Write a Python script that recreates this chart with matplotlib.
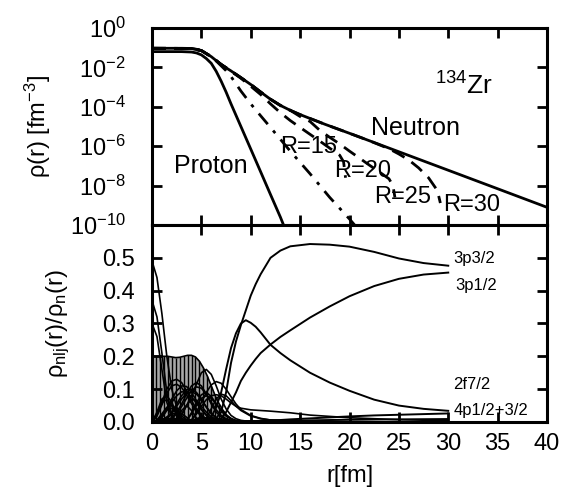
"""
134Zr neutron and proton densities, and the partial neutron densities
rho_nlj(r)/rho_n(r) of the single-particle orbitals
"""
import matplotlib
matplotlib.use('Agg')
import matplotlib.pyplot as plt
import numpy as np

plt.rcParams['font.family'] = ['Liberation Sans', 'DejaVu Sans']
plt.rcParams['mathtext.fontset'] = 'custom'
plt.rcParams['mathtext.rm'] = 'Liberation Sans'
plt.rcParams['mathtext.it'] = 'Liberation Sans:italic'
plt.rcParams['mathtext.default'] = 'regular'

########## total densities [fm^-3] ##########
r_n = [0, 1, 2, 3, 4, 4.5, 5, 5.5, 6, 6.5, 7, 7.5, 8, 9, 10, 11, 12, 13, 14, 15,
       17.5, 20, 25, 30, 35, 40]
rho_n = [9.3e-2, 9.3e-2, 9.3e-2, 9.3e-2, 9.1e-2, 8.3e-2, 7.1e-2, 5.0e-2, 3.5e-2,
         2.2e-2, 1.4e-2, 9.5e-3, 6.6e-3, 3.0e-3, 1.35e-3, 5.6e-4, 2.4e-4, 1.17e-4,
         6.6e-5, 4.0e-5, 1.3e-5, 4.5e-6, 5.2e-7, 6.0e-8, 6.9e-9, 7.9e-10]

r_p = [0, 1, 2, 3, 4, 4.5, 5, 5.5, 6, 6.5, 7, 7.5, 8, 9, 10, 11, 12, 13, 13.4]
rho_p = [6.3e-2, 6.3e-2, 6.3e-2, 6.3e-2, 6.0e-2, 5.4e-2, 4.3e-2, 2.8e-2, 1.6e-2,
         6.3e-3, 2.0e-3, 5.6e-4, 1.4e-4, 1.0e-5, 7.1e-7, 5.0e-8, 3.5e-9, 2.5e-10,
         7.9e-11]

# neutron density with bound orbitals only (dash-dot)
r_b = [0, 2, 4, 5, 6, 6.5, 7, 7.5, 8, 9, 10, 11, 12, 14, 16, 18, 20, 20.6]
rho_b = [9.3e-2, 9.3e-2, 9.1e-2, 7.1e-2, 3.5e-2, 2.1e-2, 1.2e-2, 6.8e-3, 3.4e-3,
         6.3e-4, 1.4e-4, 3.5e-5, 8.9e-6, 5.6e-7, 4.0e-8, 2.5e-9, 2.0e-10, 8.9e-11]

# box calculations, box radius R (dashed)
r_R15 = [0, 4, 5, 6, 7, 8, 9, 10, 11, 12, 13, 14, 15, 16, 17, 18, 19, 19.4, 19.6]
rho_R15 = [9.3e-2, 9.1e-2, 7.1e-2, 3.5e-2, 1.4e-2, 6.3e-3, 2.8e-3, 1.1e-3, 4.2e-4,
           1.4e-4, 5.0e-5, 2.0e-5, 8.9e-6, 4.0e-6, 1.8e-6, 7.9e-7, 3.5e-7, 1.6e-7,
           2.5e-8]
r_R20 = [0, 4, 5, 6, 7, 8, 9, 10, 11, 12, 13, 14, 15, 16, 17, 18, 19, 20, 21, 22,
         23, 24, 24.4, 24.6]
rho_R20 = [9.3e-2, 9.1e-2, 7.1e-2, 3.5e-2, 1.4e-2, 6.6e-3, 3.0e-3, 1.35e-3, 5.6e-4,
           2.4e-4, 1.17e-4, 6.6e-5, 3.2e-5, 1.8e-5, 6.3e-6, 2.8e-6, 1.3e-6, 5.6e-7,
           2.5e-7, 1.1e-7, 5.0e-8, 2.2e-8, 1.0e-8, 2.5e-9]
r_R25 = [0, 4, 5, 6, 7, 8, 9, 10, 11, 12, 13, 14, 15, 17.5, 20, 22, 24, 25, 26, 27,
         28, 28.9, 29.2]
rho_R25 = [9.3e-2, 9.1e-2, 7.1e-2, 3.5e-2, 1.4e-2, 6.6e-3, 3.0e-3, 1.35e-3, 5.6e-4,
           2.4e-4, 1.17e-4, 6.6e-5, 4.0e-5, 1.3e-5, 4.5e-6, 1.9e-6, 7.4e-7, 4.0e-7,
           2.0e-7, 7.9e-8, 2.5e-8, 5.6e-9, 1.3e-9]

########## partial densities rho_nlj / rho_n ##########
# deep orbitals
r_o = [0, 0.5, 1, 1.5, 2, 2.5, 3, 3.5, 4, 4.5, 5, 5.5, 6, 6.5, 7, 7.5, 8, 8.5, 9,
       10, 11, 12, 14, 16, 20, 25, 30]

f_1s12 = [0.49, 0.44, 0.33, 0.20, 0.10, 0.045, 0.018, 0.007, 0.003, 0.001] + [0] * 17
f_2s12 = [0.37, 0.32, 0.21, 0.09, 0.02, 0.002, 0.02, 0.05, 0.07, 0.065, 0.048,
          0.03, 0.016, 0.008, 0.004, 0.002, 0.001] + [0] * 10
f_3s12 = [0.30, 0.26, 0.16, 0.06, 0.012, 0.008, 0.035, 0.05, 0.035, 0.012, 0.001,
          0.012, 0.04, 0.07, 0.085, 0.08, 0.065, 0.048, 0.035, 0.018, 0.01, 0.006,
          0.003, 0.002, 0.001, 0, 0]
f_1p32 = [0, 0.02, 0.06, 0.10, 0.125, 0.13, 0.12, 0.095, 0.065, 0.04, 0.02, 0.01,
          0.004, 0.002, 0.001] + [0] * 12
f_1p12 = [0, 0.018, 0.052, 0.088, 0.11, 0.115, 0.105, 0.082, 0.056, 0.033, 0.017,
          0.008, 0.003, 0.001] + [0] * 13
f_1d52 = [0, 0.003, 0.015, 0.04, 0.07, 0.095, 0.11, 0.108, 0.09, 0.065, 0.04,
          0.022, 0.01, 0.004, 0.002, 0.001] + [0] * 11
f_1d32 = [0, 0.003, 0.013, 0.035, 0.06, 0.08, 0.092, 0.09, 0.077, 0.057, 0.037,
          0.02, 0.01, 0.004, 0.002, 0.001] + [0] * 11
f_1f72 = [0, 0, 0.003, 0.012, 0.03, 0.055, 0.08, 0.098, 0.10, 0.09, 0.07, 0.045,
          0.025, 0.012, 0.005, 0.002, 0.001] + [0] * 10
f_1f52 = [0, 0, 0.002, 0.01, 0.026, 0.048, 0.07, 0.088, 0.092, 0.085, 0.068,
          0.046, 0.027, 0.013, 0.006, 0.003, 0.001] + [0] * 10
f_1g92 = [0, 0, 0, 0.003, 0.012, 0.03, 0.055, 0.085, 0.11, 0.12, 0.11, 0.085,
          0.055, 0.03, 0.015, 0.007, 0.003, 0.001] + [0] * 9
f_1g72 = [0, 0, 0, 0.002, 0.01, 0.025, 0.047, 0.072, 0.095, 0.107, 0.103, 0.085,
          0.06, 0.037, 0.02, 0.01, 0.005, 0.002, 0.001] + [0] * 8
f_1h112 = [0, 0, 0, 0, 0.003, 0.01, 0.025, 0.05, 0.08, 0.115, 0.15, 0.16, 0.145,
           0.11, 0.07, 0.04, 0.02, 0.01, 0.005, 0.001] + [0] * 7
f_2p32 = [0, 0.03, 0.07, 0.08, 0.06, 0.025, 0.004, 0.004, 0.028, 0.058, 0.083,
          0.09, 0.078, 0.055, 0.034, 0.018, 0.009, 0.004, 0.002, 0.001] + [0] * 7
f_2p12 = [0, 0.025, 0.06, 0.068, 0.05, 0.02, 0.003, 0.004, 0.025, 0.05, 0.072,
          0.08, 0.072, 0.055, 0.036, 0.021, 0.011, 0.005, 0.003, 0.001] + [0] * 7
f_2d52 = [0, 0.006, 0.025, 0.045, 0.05, 0.035, 0.012, 0.001, 0.006, 0.03, 0.06,
          0.09, 0.113, 0.123, 0.118, 0.1, 0.077, 0.055, 0.038, 0.02, 0.011, 0.006,
          0.003, 0.002, 0.001, 0, 0]
f_2d32 = [0, 0.005, 0.02, 0.037, 0.042, 0.03, 0.01, 0.001, 0.005, 0.024, 0.048,
          0.068, 0.08, 0.083, 0.08, 0.07, 0.058, 0.048, 0.042, 0.037, 0.035, 0.033,
          0.028, 0.021, 0.013, 0.007, 0.004]

# weakly bound orbitals
r_w = [0, 1, 2, 3, 4, 5, 6, 6.5, 7, 7.5, 8, 8.5, 9, 9.5, 10, 10.5, 11, 12, 13, 14,
       16, 18, 20, 22.5, 25, 27.5, 30]
f_2f72 = [0, 0.005, 0.025, 0.025, 0.003, 0, 0.015, 0.045, 0.09, 0.16, 0.225, 0.27,
          0.30, 0.31, 0.302, 0.29, 0.273, 0.235, 0.21, 0.188, 0.15, 0.12, 0.095,
          0.068, 0.05, 0.04, 0.034]
f_3p32 = [0, 0.003, 0.012, 0.005, 0.003, 0.015, 0.008, 0.012, 0.03, 0.09, 0.18,
          0.245, 0.295, 0.34, 0.385, 0.42, 0.45, 0.50, 0.522, 0.535, 0.542, 0.54,
          0.534, 0.518, 0.498, 0.484, 0.476]
f_3p12 = [0, 0.002, 0.009, 0.004, 0.002, 0.011, 0.006, 0.005, 0.01, 0.03, 0.06,
          0.09, 0.125, 0.15, 0.172, 0.192, 0.21, 0.236, 0.259, 0.279, 0.318, 0.352,
          0.383, 0.414, 0.436, 0.449, 0.455]
f_4p32 = [0, 0.01, 0.002, 0.008, 0.005, 0.001, 0.008, 0.009, 0.007, 0.005, 0.003,
          0.002, 0.002, 0.002, 0.003, 0.003, 0.004, 0.005, 0.006, 0.008, 0.011,
          0.014, 0.017, 0.02, 0.022, 0.024, 0.026]
f_4p12 = [0, 0.008, 0.002, 0.006, 0.004, 0.001, 0.006, 0.007, 0.005, 0.004, 0.002,
          0.002, 0.002, 0.002, 0.002, 0.002, 0.003, 0.003, 0.003, 0.004, 0.005,
          0.006, 0.007, 0.0075, 0.008, 0.0085, 0.009]

# deep-hole strength, drawn as impulses
r_imp = [0, 0.4, 0.8, 1.2, 1.6, 2.0, 2.4, 2.8, 3.2, 3.6, 4.0, 4.4, 4.8, 5.2, 5.6,
         6.0, 6.4, 6.8, 7.2, 7.6, 8.0]
h_imp = [0.2, 0.2, 0.2, 0.2, 0.2, 0.198, 0.196, 0.197, 0.2, 0.203, 0.203, 0.198,
         0.185, 0.165, 0.14, 0.11, 0.08, 0.055, 0.035, 0.02, 0.01]

deep = [f_1s12, f_2s12, f_3s12, f_1p32, f_1p12, f_1d52, f_1d32, f_1f72, f_1f52,
        f_1g92, f_1g72, f_1h112, f_2p32, f_2p12, f_2d52, f_2d32]
weak = [f_2f72, f_3p32, f_3p12, f_4p32, f_4p12]

########## figure ##########
fig = plt.figure(figsize=(5.62, 4.95), dpi=100)
ax1 = fig.add_axes([0.2705, 0.5455, 0.7028, 0.398])
ax2 = fig.add_axes([0.2705, 0.1475, 0.7028, 0.398])

ax1.plot(r_n, rho_n, 'k-', lw=2.0)
ax1.plot(r_p, rho_p, 'k-', lw=2.0)
ax1.plot(r_b, rho_b, 'k', lw=2.0, dashes=(5, 3, 1.2, 3))
for rr, dd in [(r_R15, rho_R15), (r_R20, rho_R20), (r_R25, rho_R25)]:
    ax1.plot(rr, dd, 'k', lw=2.0, dashes=(5, 3))
ax1.set_yscale('log')
ax1.set_xlim(0, 40)
ax1.set_ylim(1e-10, 1e0)
ax1.set_yticks([1e0, 1e-2, 1e-4, 1e-6, 1e-8, 1e-10])
ax1.yaxis.set_minor_locator(matplotlib.ticker.NullLocator())
ax1.set_xticks(np.arange(0, 41, 5))
ax1.tick_params(labelbottom=False)
ax1.set_ylabel(r'$\rho$(r) [fm$^{-3}$]', fontsize=17)
ax1.yaxis.set_label_coords(-0.25, 0.5)

ax1.text(0.149, 0.299, 'Proton', transform=ax1.transAxes, fontsize=18,
         ha='center', va='center')
ax1.text(0.668, 0.492, 'Neutron', transform=ax1.transAxes, fontsize=18,
         ha='center', va='center')
ax1.text(0.397, 0.396, 'R=15', transform=ax1.transAxes, fontsize=17,
         ha='center', va='center')
ax1.text(0.532, 0.274, 'R=20', transform=ax1.transAxes, fontsize=17,
         ha='center', va='center')
ax1.text(0.635, 0.142, 'R=25', transform=ax1.transAxes, fontsize=17,
         ha='center', va='center')
ax1.text(0.810, 0.102, 'R=30', transform=ax1.transAxes, fontsize=17,
         ha='center', va='center')
ax1.text(0.716, 0.66, r'$^{134}$Zr', transform=ax1.transAxes, fontsize=19,
         ha='left', va='baseline')

# lower panel
ax2.fill_between(r_imp, 0, h_imp, color='#a8a8a8', lw=0)
ax2.vlines(r_imp, 0, h_imp, colors='k', lw=1.0)
ax2.plot(r_imp, h_imp, 'k-', lw=1.2)
for f in deep:
    ax2.plot(r_o, f, 'k-', lw=1.2)
for f in weak:
    ax2.plot(r_w, f, 'k-', lw=1.4)
ax2.set_xlim(0, 40)
ax2.set_ylim(0, 0.6)
ax2.set_xticks(np.arange(0, 41, 5))
ax2.set_yticks([0, 0.1, 0.2, 0.3, 0.4, 0.5])
ax2.yaxis.set_major_formatter(matplotlib.ticker.FormatStrFormatter('%.1f'))
ax2.set_xlabel('r[fm]', fontsize=17, labelpad=7)
ax2.set_ylabel(r'$\rho_{nlj}$(r)/$\rho_n$(r)', fontsize=17)
ax2.yaxis.set_label_coords(-0.203, 0.5)

ax2.text(30.5, 0.499, '3p3/2', fontsize=12, ha='left', va='center')
ax2.text(30.7, 0.417, '3p1/2', fontsize=12, ha='left', va='center')
ax2.text(30.5, 0.113, '2f7/2', fontsize=12, ha='left', va='center')
ax2.text(30.5, 0.035, '4p1/2+3/2', fontsize=12, ha='left', va='center')

for ax in (ax1, ax2):
    for sp in ax.spines.values():
        sp.set_linewidth(2.2)
    ax.tick_params(direction='in', length=7, width=2, top=True, right=True,
                   labelsize=17)
ax1.tick_params(axis='y', pad=19)
ax2.tick_params(axis='y', pad=12)
ax2.tick_params(axis='x', pad=8)

fig.savefig('out.png', dpi=100)
